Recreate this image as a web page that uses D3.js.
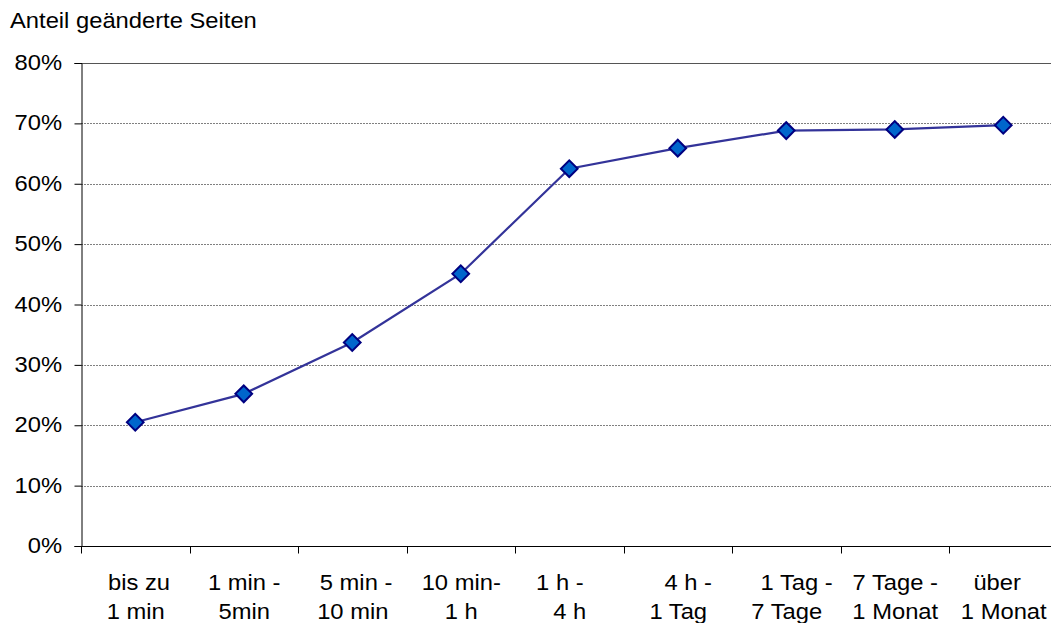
<!DOCTYPE html>
<html><head><meta charset="utf-8">
<script src="https://cdn.jsdelivr.net/npm/d3@7"></script>
<style>body{margin:0;background:#fff;}svg{display:block;font-family:Arial,"Liberation Sans",sans-serif;}text{white-space:pre;}</style>
</head><body><svg id="c" width="1051" height="623"></svg>
<script>
const categories = [[" bis zu","1 min"],["1 min -","5min"],[" 5 min -","10 min"],["10 min-","1 h"],["1 h -   ","4 h"],["   4 h -","1 Tag"],["   1 Tag -","7 Tage"],["7 Tage -","1 Monat"],["über  ","1 Monat"]];
const values = [0.205, 0.252, 0.337, 0.451, 0.625, 0.659, 0.688, 0.69, 0.697];
const yTicks = [0,0.1,0.2,0.3,0.4,0.5,0.6,0.7,0.8];
const title = "Anteil geänderte Seiten";
(function(){
const FS = 22, SX = 1.08;
const svg = d3.select("#c");
const left = 81, right = 1057.5, topY = 63, bottom = 546;
const x = d3.scaleBand().domain(d3.range(categories.length)).range([left, right]);
const y = d3.scaleLinear().domain([0,0.8]).range([bottom, topY]);

svg.append("text").attr("transform",`translate(10,28) scale(${SX},1)`).attr("font-size",FS).attr("fill","#000").text(title);

// gridlines
svg.append("g").selectAll("line").data(yTicks.filter(d=>d>0 && d<0.8)).join("line")
  .attr("x1",left).attr("x2",1051).attr("y1",d=>Math.round(y(d))+0.5).attr("y2",d=>Math.round(y(d))+0.5)
  .attr("stroke","#808080").attr("stroke-width",1).attr("stroke-dasharray","2,1");
svg.append("line").attr("x1",left).attr("x2",1051).attr("y1",Math.round(y(0.8))+0.5).attr("y2",Math.round(y(0.8))+0.5).attr("stroke","#555").attr("stroke-width",1);

// y axis
const ya = svg.append("g").attr("transform",`translate(${left+0.5},0)`)
  .call(d3.axisLeft(y).tickValues(yTicks).tickFormat(d3.format(".0%")).tickSize(7).tickPadding(12));
ya.select(".domain").attr("stroke","#000");
ya.selectAll(".tick line").attr("stroke","#000");
ya.selectAll("text").attr("font-size",FS).attr("font-family","Arial, 'Liberation Sans', sans-serif").attr("fill","#000")
  .attr("dy","0.3em").attr("x",0).attr("transform",`translate(-19.5,0) scale(${SX},1)`);

// x axis
const xa = svg.append("g").attr("transform",`translate(0,${bottom+0.5})`)
  .call(d3.axisBottom(x).tickSize(0).tickFormat(""));
xa.select(".domain").attr("stroke","#000").attr("d",`M${left},0H1051`);
const bounds = d3.range(categories.length+1).map(i=> i<categories.length ? x(i) : right);
xa.selectAll(".bt").data(bounds).join("line").attr("class","bt")
  .attr("x1",d=>Math.round(d)+0.5).attr("x2",d=>Math.round(d)+0.5).attr("y1",0).attr("y2",7).attr("stroke","#000");
const lbl = svg.append("g").selectAll("text").data(categories).join("text")
  .attr("text-anchor","middle").attr("font-size",FS).attr("fill","#000")
  .attr("transform",(d,i)=>`translate(${x(i)+x.bandwidth()/2+0.5},0) scale(${SX},1)`);
lbl.selectAll("tspan").data(d=>d).join("tspan").attr("x",0).attr("y",(d,j)=>590+j*29).text(d=>d);

// line
const cx = i => x(i)+x.bandwidth()/2;
svg.append("path").datum(values).attr("fill","none").attr("stroke","#333399").attr("stroke-width",2.2)
  .attr("d", d3.line().x((d,i)=>cx(i)).y(d=>y(d)));
svg.append("g").selectAll("path").data(values).join("path")
  .attr("d", d3.symbol(d3.symbolSquare, 140))
  .attr("transform",(d,i)=>`translate(${cx(i)},${y(d)}) rotate(45)`)
  .attr("fill","#0066CC").attr("stroke","#000080").attr("stroke-width",2);
})();
</script></body></html>
